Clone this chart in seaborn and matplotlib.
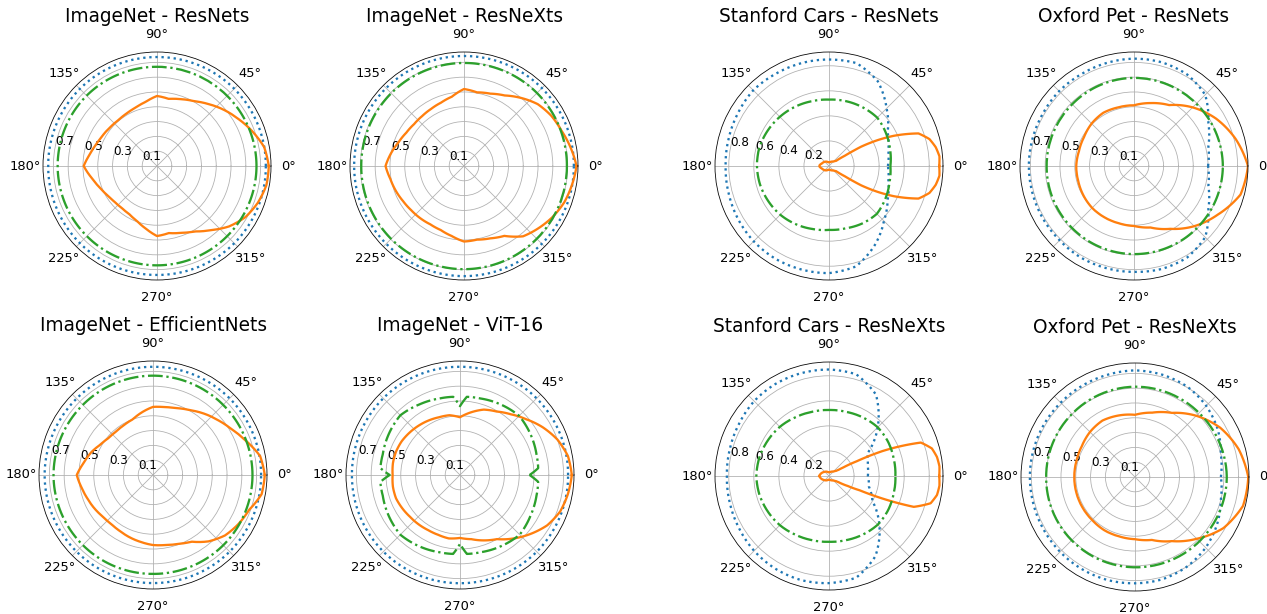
import numpy as np
import matplotlib
matplotlib.use("Agg")
import matplotlib.pyplot as plt
import seaborn as sns

# ---- data (radius at each angle, degrees) ----
ang10 = list(range(0, 360, 10))
ang15 = list(range(0, 360, 15))
ang45 = list(range(0, 360, 45))
stan_deg = [0, 5, 10, 15, 20, 25, 28, 31, 33, 36, 45, 60, 80, 100, 120, 140, 160, 175,
            180, 185, 200, 220, 240, 260, 280, 300, 315, 324, 327, 329, 332, 335, 340,
            345, 350, 355]
vit_green_deg = [0, 5, 15, 30, 45, 60, 75, 85, 90, 95, 105, 120, 135, 150, 165, 175, 180,
                 185, 195, 210, 225, 240, 255, 265, 270, 275, 285, 300, 315, 330, 345, 355]

titles = ["ImageNet - ResNets", "ImageNet - ResNeXts", "Stanford Cars - ResNets",
          "Oxford Pet - ResNets", "ImageNet - EfficientNets", "ImageNet - ViT-16",
          "Stanford Cars - ResNeXts", "Oxford Pet - ResNeXts"]

# ImageNet - ResNets
in_res_blue = [0.735, 0.738, 0.736, 0.737, 0.735, 0.737, 0.736, 0.738]
in_res_green = [0.672, 0.670, 0.670, 0.672, 0.671, 0.670, 0.671, 0.670]
in_res_orange = [0.755, 0.735, 0.685, 0.635, 0.590, 0.545, 0.505, 0.480, 0.460, 0.473,
                 0.440, 0.420, 0.410, 0.405, 0.410, 0.420, 0.435, 0.460, 0.495, 0.450,
                 0.415, 0.390, 0.375, 0.370, 0.375, 0.395, 0.430, 0.473, 0.460, 0.480,
                 0.510, 0.565, 0.635, 0.690, 0.725, 0.750]

# ImageNet - ResNeXts
in_rnx_blue = [0.742, 0.744, 0.743, 0.744, 0.742, 0.743, 0.744, 0.743]
in_rnx_green = [0.695, 0.697, 0.696, 0.695, 0.694, 0.696, 0.697, 0.695]
in_rnx_orange = [0.760, 0.730, 0.700, 0.680, 0.650, 0.600, 0.550, 0.520, 0.505, 0.520,
                 0.475, 0.455, 0.445, 0.440, 0.440, 0.450, 0.470, 0.500, 0.530, 0.505,
                 0.490, 0.475, 0.465, 0.460, 0.455, 0.460, 0.480, 0.510, 0.505, 0.520,
                 0.545, 0.620, 0.655, 0.690, 0.720, 0.740]

# ImageNet - EfficientNets
in_eff_blue = [0.730, 0.732, 0.731, 0.730, 0.732, 0.731, 0.730, 0.732]
in_eff_green = [0.672, 0.670, 0.671, 0.670, 0.672, 0.670, 0.668, 0.671]
in_eff_orange = [0.755, 0.735, 0.670, 0.615, 0.575, 0.540, 0.505, 0.480, 0.465, 0.460,
                 0.430, 0.400, 0.390, 0.385, 0.390, 0.410, 0.445, 0.475, 0.515, 0.490,
                 0.470, 0.455, 0.440, 0.435, 0.440, 0.450, 0.460, 0.473, 0.480, 0.495,
                 0.520, 0.585, 0.635, 0.665, 0.690, 0.745]

# ImageNet - ViT-16
in_vit_blue = [0.730, 0.732, 0.731, 0.733, 0.730, 0.732, 0.731, 0.733]
in_vit_green = [0.470, 0.530, 0.535, 0.550, 0.565, 0.550, 0.535, 0.530, 0.465, 0.530,
                0.535, 0.550, 0.570, 0.555, 0.540, 0.540, 0.475, 0.540, 0.540, 0.555,
                0.570, 0.555, 0.540, 0.535, 0.465, 0.535, 0.540, 0.555, 0.570, 0.550,
                0.535, 0.530]
in_vit_orange = [0.755, 0.740, 0.700, 0.645, 0.585, 0.535, 0.495, 0.470, 0.430, 0.390,
                 0.410, 0.415, 0.425, 0.435, 0.445, 0.455, 0.460, 0.460, 0.455, 0.460,
                 0.460, 0.450, 0.440, 0.435, 0.430, 0.430, 0.435, 0.425, 0.440, 0.470,
                 0.500, 0.560, 0.620, 0.680, 0.720, 0.740]

# Stanford Cars - ResNets
sc_res_blue = [0.470, 0.490, 0.540, 0.650, 0.780, 0.850, 0.850, 0.850, 0.850, 0.855,
               0.840, 0.830, 0.825, 0.830, 0.840, 0.850, 0.855, 0.855, 0.855, 0.830,
               0.730, 0.620, 0.540, 0.490]
sc_res_green = [0.490, 0.505, 0.525, 0.545, 0.540, 0.535, 0.530, 0.535, 0.545, 0.555,
                0.565, 0.575, 0.575, 0.570, 0.560, 0.550, 0.535, 0.520, 0.510, 0.515,
                0.530, 0.540, 0.520, 0.500]
sc_res_orange = [0.880, 0.885, 0.865, 0.830, 0.760, 0.570, 0.440, 0.300, 0.150, 0.070,
                 0.050, 0.040, 0.030, 0.030, 0.040, 0.050, 0.060, 0.075, 0.077, 0.075,
                 0.060, 0.050, 0.040, 0.030, 0.030, 0.040, 0.050, 0.070, 0.150, 0.300,
                 0.440, 0.570, 0.760, 0.830, 0.865, 0.885]

# Stanford Cars - ResNeXts
sc_rnx_blue = [0.310, 0.320, 0.350, 0.550, 0.750, 0.840, 0.850, 0.850, 0.850, 0.845,
               0.830, 0.820, 0.815, 0.820, 0.830, 0.845, 0.855, 0.860, 0.855, 0.840,
               0.740, 0.570, 0.400, 0.330]
sc_rnx_green = [0.530, 0.535, 0.545, 0.550, 0.540, 0.530, 0.527, 0.530, 0.540, 0.555,
                0.565, 0.575, 0.580, 0.575, 0.565, 0.555, 0.540, 0.530, 0.525, 0.530,
                0.540, 0.550, 0.545, 0.535]
sc_rnx_orange = [0.880, 0.885, 0.875, 0.850, 0.780, 0.470, 0.250, 0.130, 0.090, 0.070,
                 0.050, 0.040, 0.030, 0.030, 0.040, 0.050, 0.065, 0.075, 0.080, 0.075,
                 0.065, 0.050, 0.040, 0.030, 0.030, 0.040, 0.050, 0.070, 0.090, 0.120,
                 0.170, 0.270, 0.720, 0.840, 0.875, 0.885]

# Oxford Pet - ResNets
op_res_blue = [0.500, 0.520, 0.580, 0.680, 0.715, 0.725, 0.725, 0.720, 0.715, 0.715,
               0.710, 0.710, 0.710, 0.710, 0.710, 0.710, 0.715, 0.715, 0.715, 0.720,
               0.715, 0.680, 0.580, 0.520]
op_res_green = [0.600, 0.595, 0.595, 0.590, 0.590, 0.592, 0.595, 0.597]
op_res_orange = [0.770, 0.710, 0.640, 0.560, 0.475, 0.440, 0.410, 0.410, 0.415, 0.405,
                 0.390, 0.385, 0.390, 0.390, 0.395, 0.400, 0.400, 0.400, 0.405, 0.430,
                 0.490, 0.575, 0.655, 0.745]

# Oxford Pet - ResNeXts
op_rnx_blue = [0.580, 0.600, 0.645, 0.680, 0.705, 0.715, 0.720, 0.715, 0.712, 0.710,
               0.710, 0.710, 0.710, 0.710, 0.712, 0.715, 0.718, 0.720, 0.718, 0.715,
               0.700, 0.675, 0.640, 0.600]
op_rnx_green = [0.620, 0.612, 0.610, 0.602, 0.600, 0.605, 0.610, 0.615]
op_rnx_orange = [0.765, 0.725, 0.665, 0.585, 0.500, 0.450, 0.420, 0.430, 0.440, 0.430,
                 0.415, 0.410, 0.410, 0.410, 0.410, 0.410, 0.415, 0.415, 0.420, 0.440,
                 0.500, 0.590, 0.690, 0.755]

panels = [
    (in_res_blue, ang45, in_res_orange, ang10, in_res_green, ang45),
    (in_rnx_blue, ang45, in_rnx_orange, ang10, in_rnx_green, ang45),
    (sc_res_blue, ang15, sc_res_orange, stan_deg, sc_res_green, ang15),
    (op_res_blue, ang15, op_res_orange, ang15, op_res_green, ang45),
    (in_eff_blue, ang45, in_eff_orange, ang10, in_eff_green, ang45),
    (in_vit_blue, ang45, in_vit_orange, ang10, in_vit_green, vit_green_deg),
    (sc_rnx_blue, ang15, sc_rnx_orange, stan_deg, sc_rnx_green, ang15),
    (op_rnx_blue, ang15, op_rnx_orange, ang15, op_rnx_green, ang45),
]

odd_ticks = [0.1, 0.2, 0.3, 0.4, 0.5, 0.6, 0.7]
odd_labels = ["0.1", "", "0.3", "", "0.5", "", "0.7"]
even_ticks = [0.2, 0.4, 0.6, 0.8]
even_labels = ["0.2", "0.4", "0.6", "0.8"]

# ---- layout (pixels) ----
W, H, DPI = 1267, 614, 72
R = 114
centers = [(157, 166), (464, 166), (829, 166), (1134, 166),
           (153, 475), (460, 475), (829, 476), (1135, 477)]


def draw(ax, deg, r, color, ls):
    th = np.deg2rad(list(deg) + [360])
    rr = list(r) + [r[0]]
    sns.lineplot(x=th, y=rr, ax=ax, color=color, linestyle=ls, linewidth=2.3,
                 sort=False, estimator=None)
    # let the polar transform bend each segment along theta
    ax.lines[-1].get_path()._interpolation_steps = 40


fig = plt.figure(figsize=(W / DPI, H / DPI), dpi=DPI)
for title, data, (cx, cy) in zip(titles, panels, centers):
    ax = fig.add_axes([(cx - R) / W, 1 - (cy + R) / H, 2 * R / W, 2 * R / H],
                      projection="polar")
    blue, bdeg, orange, odeg, green, gdeg = data
    draw(ax, bdeg, blue, "tab:blue", ":")
    draw(ax, odeg, orange, "tab:orange", "-")
    draw(ax, gdeg, green, "tab:green", "-.")
    stanford = title.startswith("Stanford")
    ax.set_ylim(0, 0.91 if stanford else 0.77)
    if stanford:
        ax.set_yticks(even_ticks)
        ax.set_yticklabels(even_labels)
    else:
        ax.set_yticks(odd_ticks)
        ax.set_yticklabels(odd_labels)
    ax.set_rlabel_position(170)
    ax.tick_params(axis="x", labelsize=13, pad=7)
    ax.tick_params(axis="y", labelsize=12)
    ax.set_xlabel("")
    ax.set_ylabel("")
    ax.set_title(title, fontsize=18.5)

fig.savefig("out.png", dpi=DPI)
